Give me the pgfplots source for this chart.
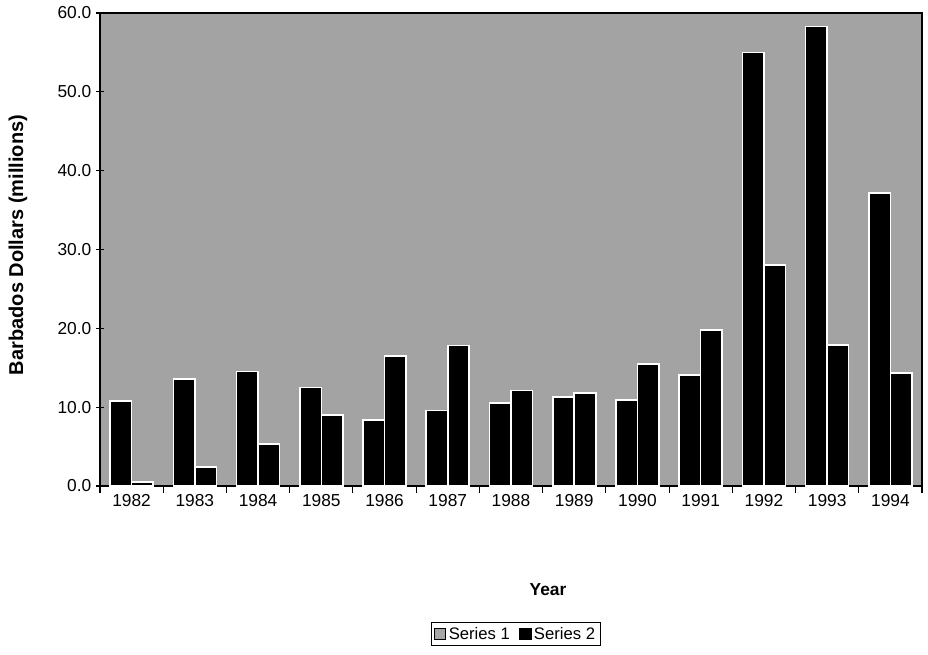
\documentclass[border=0pt]{standalone}
\usepackage{fontspec}
\setmainfont{Liberation Sans}
\usepackage{pgfplots}
\pgfplotsset{compat=1.18}
\begin{document}
\begin{tikzpicture}[x=0.75pt,y=0.75pt]
\path[use as bounding box] (0,0) rectangle (928,654);
\begin{axis}[
  at={(75pt,126pt)}, anchor=south west,
  scale only axis, width=616.5pt, height=354.75pt,
  xmin=0.5, xmax=13.5, ymin=0, ymax=60,
  axis background/.style={fill=gray!72},
  axis line style={black, line width=1pt},
  xtick pos=bottom, ytick pos=left,
  xtick align=outside,
  xtick={1,2,3,4,5,6,7,8,9,10,11,12,13},
  xticklabels={1982,1983,1984,1985,1986,1987,1988,1989,1990,1991,1992,1993,1994},
  major x tick style={draw=none},
  minor xtick={0.5,1.5,2.5,3.5,4.5,5.5,6.5,7.5,8.5,9.5,10.5,11.5,12.5,13.5},
  minor x tick style={black, line width=0.8pt},
  minor tick length=5pt,
  x tick label style={yshift=3pt},
  ytick={0,10,20,30,40,50,60},
  y tick style={black, line width=0.8pt},
  ytick align=center,
  major tick length=6pt,
  yticklabel style={/pgf/number format/.cd, fixed, fixed zerofill, precision=1},
  /pgf/number format/assume math mode=true,
  tick label style={font=\fontsize{13}{15}\selectfont},
  legend style={at={(0.506,-0.313)}, anchor=center, draw=black, line width=0.8pt, fill=white,
    font=\fontsize{12.5}{14}\selectfont, legend columns=2,
    /tikz/every even column/.append style={column sep=5pt},
    inner xsep=2pt, inner ysep=1.5pt},
  legend image code/.code={\draw[#1, line width=0.5pt] (0cm,-0.15cm) rectangle (0.3cm,0.15cm);},
]
\addplot[ybar, bar width=0.34, bar shift=-0.17, fill=black, draw=white, line width=1.2pt, forget plot] coordinates {
(1,10.8) (2,13.6) (3,14.5) (4,12.5) (5,8.4) (6,9.6) (7,10.5) (8,11.3) (9,10.9) (10,14.1) (11,55.0) (12,58.3) (13,37.2)};
\addplot[ybar, bar width=0.34, bar shift=0.17, fill=black, draw=white, line width=1.2pt, forget plot] coordinates {
(1,0.5) (2,2.4) (3,5.3) (4,9.0) (5,16.5) (6,17.8) (7,12.1) (8,11.8) (9,15.5) (10,19.8) (11,28.0) (12,17.9) (13,14.3)};
\addlegendimage{fill=gray!70, draw=black}
\addlegendentry{Series 1}
\addlegendimage{fill=black, draw=black}
\addlegendentry{Series 2}
\end{axis}
\node[rotate=90, font=\bfseries\fontsize{15}{17}\selectfont] at (18,409) {Barbados Dollars (millions)};
\node[font=\bfseries\fontsize{13}{15}\selectfont] at (548,64) {Year};
\end{tikzpicture}
\end{document}
